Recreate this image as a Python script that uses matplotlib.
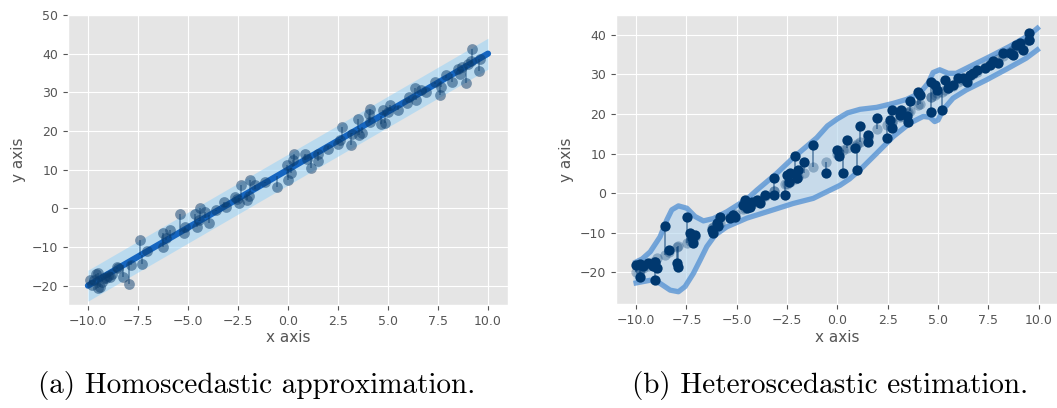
import numpy as np
import matplotlib.pyplot as plt

plt.style.use("ggplot")

# ----------------------------
# (a) homoscedastic data
# ----------------------------
lx = [-9.9, -9.8, -9.7, -9.6, -9.5, -9.49, -9.4, -9.3, -9.2, -9.1, -9.0, -8.9,
      -8.8, -8.55, -8.49, -8.24, -7.95, -7.85, -7.4, -7.32, -7.05, -6.27, -6.27,
      -6.1, -5.9, -5.4, -5.2, -5.17, -4.64, -4.56, -4.44, -4.4, -4.14, -3.93,
      -3.6, -3.18, -3.1, -2.65, -2.53, -2.43, -2.36, -2.06, -1.93, -1.9, -1.65,
      -1.15, -0.57, -0.03, 0.02, 0.17, 0.27, 0.32, 0.85, 0.93, 1.13, 1.51, 1.51,
      2.01, 2.51, 2.6, 2.68, 3.15, 3.18, 3.48, 3.56, 3.68, 4.06, 4.09, 4.09,
      4.64, 4.73, 4.84, 5.0, 5.09, 5.5, 5.96, 6.06, 6.34, 6.39, 6.67, 6.92,
      7.34, 7.59, 7.67, 7.89, 8.22, 8.5, 8.59, 8.72, 8.89, 9.0, 9.13, 9.22,
      9.53, 9.58]
ly = [-18.5, -19.8, -18.6, -17.0, -20.5, -16.8, -20.3, -19.0, -18.0, -18.0,
      -17.5, -17.7, -16.9, -15.1, -15.5, -17.7, -19.6, -14.7, -8.2, -14.4,
      -11.0, -6.5, -9.9, -7.8, -5.6, -1.6, -6.5, -4.8, -1.6, -4.8, -3.1, 0.2,
      -0.9, -3.9, -0.5, 1.7, 0.4, 2.8, 2.3, 1.3, 6.0, 2.1, 3.1, 7.3, 5.9, 6.8,
      5.5, 11.1, 7.4, 9.2, 12.4, 14.1, 14.1, 12.8, 10.5, 12.2, 14.1, 15.4, 16.6,
      17.6, 21.0, 16.3, 19.3, 23.2, 18.9, 19.5, 24.5, 25.8, 22.3, 21.9, 25.3,
      22.1, 24.9, 26.6, 25.3, 27.2, 28.9, 31.2, 27.9, 30.5, 30.1, 32.6, 29.4,
      31.3, 34.6, 32.6, 36.1, 34.8, 36.5, 32.4, 37.4, 38.0, 41.1, 35.6, 38.6]
lfit_x = [-10.0, 10.0]
lfit_y = [-20.0, 40.0]
lband_lo = [-24.0, 36.0]
lband_hi = [-16.0, 44.0]

# ----------------------------
# (b) heteroscedastic data
# ----------------------------
rx = [-10.0, -9.8, -9.64, -9.39, -9.14, -9.06, -8.97, -9.06, -9.8, -8.59,
      -8.35, -7.98, -7.9, -7.49, -7.32, -7.24, -7.16, -7.07, -6.24, -6.16,
      -6.0, -5.91, -5.83, -5.33, -5.17, -5.09, -4.67, -4.59, -4.51, -4.34,
      -4.26, -4.01, -3.85, -3.6, -3.13, -3.13, -2.6, -2.52, -2.39, -2.36,
      -2.11, -2.03, -1.94, -1.66, -1.2, -0.57, -0.04, 0.09, 0.29, 0.49, 0.87,
      0.95, 1.12, 1.53, 1.53, 1.94, 2.44, 2.61, 2.69, 2.69, 3.1, 3.18, 3.43,
      3.51, 3.6, 4.01, 4.09, 4.67, 4.67, 4.84, 4.92, 5.17, 5.33, 5.5, 5.75,
      6.0, 6.24, 6.41, 6.58, 6.74, 6.91, 7.32, 7.57, 7.73, 7.98, 8.23, 8.56,
      8.73, 8.89, 9.06, 9.22, 9.52, 9.52]
ry = [-18.1, -21.1, -18.5, -17.7, -18.5, -17.3, -19.0, -21.9, -18.0, -8.4,
      -14.3, -17.7, -18.6, -6.1, -10.1, -11.4, -12.7, -10.5, -9.3, -10.1,
      -7.6, -8.4, -5.9, -6.3, -5.5, -5.9, -3.0, -1.7, -3.8, -3.4, -2.1, -1.7,
      -2.5, -0.4, 3.8, -0.4, -0.4, 4.6, 2.9, 5.0, 9.3, 3.8, 5.9, 8.0, 12.2,
      5.0, 10.9, 9.3, 5.0, 13.5, 11.4, 5.9, 17.0, 14.7, 13.0, 18.9, 13.9,
      18.5, 21.0, 16.4, 19.8, 21.0, 19.4, 18.1, 23.2, 25.7, 24.8, 28.2, 20.6,
      27.4, 26.1, 21.0, 28.6, 26.5, 27.4, 29.0, 29.0, 28.2, 29.9, 30.3, 31.2,
      31.6, 32.4, 33.3, 32.8, 35.4, 35.4, 34.9, 37.5, 37.9, 36.2, 40.4, 38.7]
rmu = [-19.8, -19.4, -19.0, -18.3, -17.5, -17.3, -16.4, -17.3, -19.4, -15.6,
       -14.9, -13.5, -13.3, -12.5, -12.0, -11.7, -11.4, -11.0, -8.7, -8.5,
       -8.0, -7.7, -7.5, -6.0, -5.5, -5.3, -4.0, -3.8, -3.5, -3.0, -2.8,
       -2.0, -1.6, -0.8, 0.6, 0.6, 2.2, 2.4, 2.8, 2.9, 3.7, 3.9, 4.2, 5.0,
       6.5, 8.0, 9.9, 10.3, 10.9, 11.5, 12.0, 12.4, 13.0, 14.3, 14.3, 16.2,
       17.3, 17.8, 18.1, 18.1, 19.3, 19.5, 20.3, 20.5, 20.8, 22.3, 22.5, 24.2,
       24.2, 24.9, 25.3, 25.5, 26.0, 26.5, 27.2, 28.0, 28.7, 29.2, 29.7, 30.2,
       30.7, 32.0, 32.7, 33.2, 33.9, 34.7, 35.7, 36.2, 36.7, 37.2, 37.7, 38.6,
       38.6]

# upper / lower edges of the predictive band
bx_hi = [-10.13, -9.7, -9.3, -8.81, -8.48, -8.23, -7.9, -7.48, -7.07, -6.66,
         -6.16, -5.5, -4.5, -4.0, -3.02, -2.19, -1.03, -0.5, 0.0, 0.5, 1.12,
         1.95, 2.77, 3.43, 4.09, 4.5, 4.75, 5.08, 5.5, 5.9, 6.57, 7.56, 8.55,
         9.54, 10.03]
b_hi = [-17.7, -16.6, -14.8, -11.0, -6.8, -4.2, -3.2, -3.8, -5.9, -7.0,
        -6.4, -4.7, -1.5, 0.8, 5.0, 9.0, 14.0, 17.0, 18.8, 20.3, 21.2, 21.7,
        22.7, 23.7, 25.3, 27.8, 30.5, 31.2, 30.3, 30.3, 32.0, 34.5, 37.1,
        40.0, 42.1]
bx_lo = [-10.13, -9.3, -8.81, -8.31, -7.9, -7.57, -7.16, -6.82, -6.49, -6.08,
         -5.5, -4.5, -3.19, -2.2, -1.2, -0.6, 0.13, 0.6, 1.12, 1.95, 2.77, 3.6,
         4.26, 4.59, 4.83, 5.0, 5.25, 5.74, 6.4, 7.39, 8.38, 9.37, 10.03]
b_lo = [-22.8, -22.0, -22.8, -24.5, -24.9, -23.6, -20.3, -16.9, -13.5, -10.6,
        -8.5, -6.3, -4.2, -2.6, -1.3, 0.2, 2.0, 3.6, 5.9, 10.1, 14.3, 17.7,
        19.4, 19.2, 18.1, 18.5, 21.1, 24.0, 26.1, 28.6, 31.3, 34.1, 36.6]

xticks = [-10.0, -7.5, -5.0, -2.5, 0.0, 2.5, 5.0, 7.5, 10.0]

fig = plt.figure(figsize=(10.57, 4.08), dpi=100)
ax1 = fig.add_axes([0.0643, 0.2525, 0.4163, 0.7108])
ax2 = fig.add_axes([0.5828, 0.2549, 0.419, 0.708])

# --- left panel
ax1.fill_between(lfit_x, lband_lo, lband_hi, color="#87CEFA", alpha=0.45, lw=0, zorder=2)
ax1.plot(lfit_x, lfit_y, color="#1565C0", lw=4.5, zorder=3, solid_capstyle="round")
ax1.vlines(lx, ly, np.interp(lx, lfit_x, lfit_y), color="#0b3d6e", alpha=0.5, lw=1.2, zorder=4)
ax1.scatter(lx, ly, s=60, color="#0b3d6e", alpha=0.5, lw=0, zorder=5)
ax1.set_xlim(-11, 11)
ax1.set_ylim(-25, 50)
ax1.set_yticks(range(-20, 51, 10))

# --- right panel
ax2.fill(bx_hi + bx_lo[::-1], b_hi + b_lo[::-1], color="#b3d4ee", alpha=0.6, lw=0, zorder=2)
ax2.plot(bx_hi, b_hi, color="#4f8fd3", alpha=0.75, lw=3.8, zorder=3,
         solid_joinstyle="round", solid_capstyle="butt")
ax2.plot(bx_lo, b_lo, color="#4f8fd3", alpha=0.75, lw=3.8, zorder=3,
         solid_joinstyle="round", solid_capstyle="butt")
ax2.vlines(rx, ry, rmu, color="#00386f", alpha=0.55, lw=1.2, zorder=4)
ax2.scatter(rx, rmu, s=55, color="#00386f", alpha=0.3, lw=0, zorder=5)
ax2.scatter(rx, ry, s=55, color="#00386f", lw=0, zorder=6)
ax2.set_xlim(-11, 11)
ax2.set_ylim(-28, 45)
ax2.set_yticks(range(-20, 41, 10))

for ax in (ax1, ax2):
    ax.set_xticks(xticks)
    ax.tick_params(labelsize=9, colors="#555555")
    ax.set_xlabel("x axis", fontsize=11, color="#555555", labelpad=2)
    ax.set_ylabel("y axis", fontsize=11, color="#555555")

fig.text(0.243, 0.055, "(a) Homoscedastic approximation.", family="cmr10",
         fontsize=21, ha="center", va="center")
fig.text(0.785, 0.055, "(b) Heteroscedastic estimation.", family="cmr10",
         fontsize=21, ha="center", va="center")

fig.savefig("out.png", dpi=100)
